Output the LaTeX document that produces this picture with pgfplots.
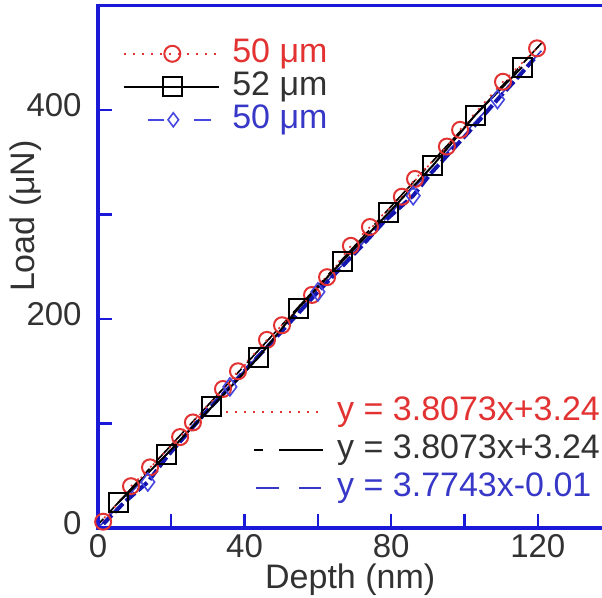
\documentclass[border=0pt]{standalone}
\usepackage{pgfplots}
\pgfplotsset{compat=1.18}
\usepackage{fontspec}
\setmainfont{Liberation Sans}

\definecolor{cred}{RGB}{226,50,50}
\definecolor{caxis}{RGB}{25,25,215}
\definecolor{cbtext}{RGB}{55,55,200}
\definecolor{cbline}{RGB}{20,20,175}
\definecolor{cdia}{RGB}{70,70,225}
\definecolor{tgray}{RGB}{50,50,50}

% legend sample: line with one mark in the middle
\pgfplotsset{markleg/.style={legend image code/.code={%
  \draw[mark repeat=2, mark phase=2, ##1] plot coordinates {(0pt,0pt) (24pt,0pt) (47.5pt,0pt)};}}}

\pgfplotsset{common/.style={
  x=1.8325pt, y=0.5225pt,
  xmin=0, xmax=140, ymin=0, ymax=500,
  legend cell align=left,
}}

\begin{document}
\begin{tikzpicture}[font=\fontsize{17}{20}\selectfont]

% fitted lines and their equations
\begin{axis}[common, hide axis,
  legend style={at={(axis cs:34.65,126.3)}, anchor=north west, draw=none, fill=none,
    inner sep=0pt, row sep=3.5pt,
    nodes={inner ysep=0pt, inner xsep=6pt, text height=12pt, text depth=3.5pt, anchor=west}},
]
\addplot[cred, line width=0.8pt, dash pattern=on 1pt off 3.5pt,
  legend image code/.code={\draw[cred, line width=0.9pt, dash pattern=on 1pt off 3.5pt] (0pt,0pt)--(49pt,0pt);}]
  coordinates {(0,3.24) (121,463.92)};
\addlegendentry{\textcolor{cred}{y = 3.8073x+3.24}}
\addplot[black, line width=0.8pt, dash pattern=on 4pt off 4pt on 22pt off 4pt,
  legend image code/.code={\path[draw=none] (0pt,0pt)--(49pt,0pt);
    \draw[black, solid, line width=1pt] (14pt,0pt)--(18.5pt,0pt);
    \draw[black, solid, line width=1pt] (26.5pt,0pt)--(48.5pt,0pt);}]
  coordinates {(0,3.24) (121,463.92)};
\addlegendentry{\textcolor{tgray}{y = 3.8073x+3.24}}
\addplot[cbtext, line width=0.8pt, dash pattern=on 11pt off 10pt,
  legend image code/.code={\path[draw=none] (0pt,0pt)--(49pt,0pt);
    \draw[cbtext, solid, line width=1pt] (15pt,0pt)--(26.5pt,0pt);
    \draw[cbtext, solid, line width=1pt] (36.5pt,0pt)--(47.5pt,0pt);}]
  coordinates {(0,-0.01) (121,456.68)};
\addlegendentry{\textcolor{cbtext}{y = 3.7743x-0.01}}
\end{axis}

% measured load-depth data
\begin{axis}[common, name=ax,
  axis line style={caxis, line width=1.6pt},
  xtick={0,40,80,120}, minor xtick={20,60,100,140},
  ytick={0,200,400}, minor ytick={100,300},
  xtick pos=bottom, ytick pos=left,
  tick align=inside,
  major tick length=7pt, minor tick length=7pt,
  tick style={caxis, line width=1.1pt},
  /pgf/number format/assume math mode=true,
  tick label style={text=tgray, font=\fontsize{16.5}{19}\selectfont},
  xticklabel style={anchor=center, yshift=-9pt},
  yticklabel style={anchor=east, inner sep=0pt, xshift=-8pt, yshift=2.5pt},
  xlabel={Depth (nm)}, ylabel={Load (μN)},
  label style={text=tgray, font=\fontsize{17}{20}\selectfont},
  xlabel style={at={(axis description cs:0.4915,0)}, anchor=center, yshift=-26pt},
  ylabel style={at={(axis description cs:-0.140,0.597)}, anchor=center},
  legend style={at={(axis cs:6.8,469)}, anchor=north west, draw=none, fill=none,
    inner sep=0pt, row sep=1pt,
    nodes={inner ysep=0pt, inner xsep=6pt, text height=12pt, text depth=3.5pt, anchor=west}},
]
\addplot[cred, line width=0.8pt, dash pattern=on 1pt off 3.5pt,
  mark=o, mark size=4pt, mark options={solid, fill=white, line width=1pt},
  markleg]
  coordinates {
  (1.4,6) (9.0,40) (14.2,58) (22.4,87) (25.9,101) (34.1,133) (38.2,150)
  (46.1,180) (50.2,194) (58.4,223) (62.5,240) (69.0,270) (74.2,288)
  (82.9,317) (86.5,334) (95.2,365) (98.8,381) (110.5,427) (119.8,459)};
\addlegendentry{\textcolor{cred}{50 μm}}

\addplot[cbline, line width=2pt, dash pattern=on 6pt off 2pt,
  mark=diamond, mark size=4.5pt, mark indices={3,7,11,15,19},
  mark options={solid, draw=cdia, fill=white, line width=0.8pt},
  forget plot]
  coordinates {
  (1.5,4) (7,24) (13.6,44) (19,69) (25,93) (30,113) (36,135) (42,158)
  (48,180) (54,203) (60,226) (66,248) (72,270) (78,293) (86,318) (91,340)
  (97,363) (103,386) (109,410) (114,429) (119,449)};

\addplot[black, line width=1pt,
  mark=square, mark size=4.75pt, mark options={solid, fill=white, line width=1pt},
  markleg]
  coordinates {
  (5.5,24) (18.6,70) (31.1,116) (43.7,163) (54.6,210) (66.6,255)
  (79.4,302) (91.4,347) (102.9,395) (115.7,441)};
\addlegendentry{\textcolor{tgray}{52 μm}}

\addlegendimage{legend image code/.code={\path[draw=none] (0pt,0pt)--(47.5pt,0pt);
    \draw[cdia, solid, line width=1pt] (12pt,0pt)--(20pt,0pt);
    \draw[cdia, solid, line width=1pt] (35pt,0pt)--(43.5pt,0pt);
    \draw[cdia, solid, line width=0.8pt, mark=diamond, mark size=3.5pt, mark options={fill=white}] plot coordinates {(24.5pt,0pt)};}}
\addlegendentry{\textcolor{cbtext}{50 μm}}
\end{axis}

\pgfresetboundingbox
\path[use as bounding box] ([shift={(-49pt,-35pt)}]ax.south west) rectangle ([shift={(252pt,264pt)}]ax.south west);
\end{tikzpicture}
\end{document}
